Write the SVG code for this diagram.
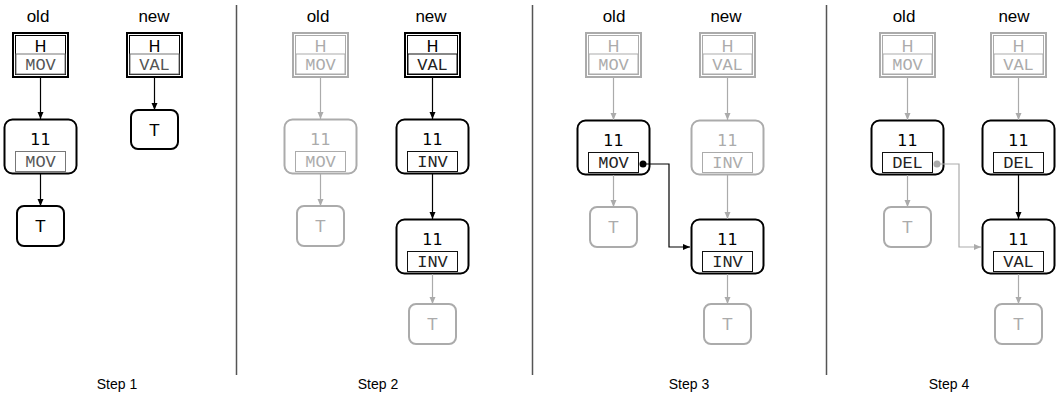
<svg xmlns="http://www.w3.org/2000/svg" width="1061" height="395" viewBox="0 0 1061 395">
<defs>
<style>
.bg{fill:#fff}
.ob{fill:#fff;stroke:#000;stroke-width:2}
.og{fill:#fff;stroke:#ababab;stroke-width:2}
.ib{fill:none;stroke:#000;stroke-width:1}
.ig{fill:none;stroke:#ababab;stroke-width:1}
.lb{fill:#fff;stroke:#111;stroke-width:1}
.lg{fill:#fff;stroke:#ababab;stroke-width:1}
.l1{fill:#fff;stroke:#777;stroke-width:1}
.nt{font-family:"DejaVu Sans",sans-serif;font-size:16px;text-anchor:middle}
.mt{font-family:"Liberation Mono","Courier New",monospace;font-size:17px;text-anchor:middle}
.hd{font-family:"Liberation Sans",Arial,sans-serif;font-size:17px;text-anchor:middle;fill:#000}
.st{font-family:"Liberation Sans",Arial,sans-serif;font-size:14px;text-anchor:middle;fill:#000}
.k{fill:#000}
.km{fill:#222}
.g{fill:#ababab}
.k1{fill:#555}
.cb{fill:none;stroke:#000;stroke-width:1.2;marker-end:url(#ab)}
.cg{fill:none;stroke:#ababab;stroke-width:1.2;marker-end:url(#ag)}
.sep{stroke:#555;stroke-width:1.5}
</style>
<marker id="ab" viewBox="0 0 7 7" refX="7" refY="3.5" markerWidth="7" markerHeight="7" markerUnits="userSpaceOnUse" orient="auto"><path d="M0,0.5 L7,3.5 L0,6.5 z" fill="#000"/></marker>
<marker id="ag" viewBox="0 0 7 7" refX="7" refY="3.5" markerWidth="7" markerHeight="7" markerUnits="userSpaceOnUse" orient="auto"><path d="M0,0.5 L7,3.5 L0,6.5 z" fill="#ababab"/></marker>
</defs>
<rect class="bg" x="0" y="0" width="1061" height="395"/>

<g id="separators">
<line class="sep" x1="236.5" y1="5" x2="236.5" y2="375"/>
<line class="sep" x1="532.5" y1="5" x2="532.5" y2="375"/>
<line class="sep" x1="826.5" y1="5" x2="826.5" y2="375"/>
</g>

<g id="headers">
<text class="hd" x="38" y="22">old</text><text class="hd" x="154" y="22">new</text>
<text class="hd" x="318" y="22">old</text><text class="hd" x="431" y="22">new</text>
<text class="hd" x="614" y="22">old</text><text class="hd" x="726" y="22">new</text>
<text class="hd" x="904" y="22">old</text><text class="hd" x="1014" y="22">new</text>
</g>

<g id="step-labels">
<text class="st" x="117" y="389">Step 1</text>
<text class="st" x="378" y="389">Step 2</text>
<text class="st" x="689" y="389">Step 3</text>
<text class="st" x="949" y="389">Step 4</text>
</g>

<!-- STEP 1 -->
<g id="s1-old-h">
<rect class="ob" x="13" y="33" width="55" height="44"/>
<rect class="ib" x="15.5" y="35.5" width="50" height="39"/>
<text class="nt k" x="40.5" y="52">H</text>
<rect class="l1" x="16" y="54" width="49" height="20"/>
<text class="mt k1" x="40.5" y="70">MOV</text>
</g>
<g id="s1-old-11">
<rect class="ob" x="4.5" y="119.5" width="72" height="54" rx="8"/>
<text class="nt k" x="40.5" y="145">11</text>
<rect class="l1" x="15.5" y="151.5" width="50" height="20"/>
<text class="mt k1" x="40.5" y="167">MOV</text>
</g>
<g id="s1-old-t">
<rect class="ob" x="17" y="206" width="47" height="40" rx="7"/>
<text class="nt k" x="40.5" y="232">T</text>
</g>
<g id="s1-new-h">
<rect class="ob" x="127" y="33" width="55" height="44"/>
<rect class="ib" x="129.5" y="35.5" width="50" height="39"/>
<text class="nt k" x="154.5" y="52">H</text>
<rect class="l1" x="130" y="54" width="49" height="20"/>
<text class="mt k1" x="154.5" y="70">VAL</text>
</g>
<g id="s1-new-t">
<rect class="ob" x="131" y="110" width="47" height="39" rx="7"/>
<text class="nt k" x="154.5" y="136">T</text>
</g>

<!-- STEP 2 -->
<g id="s2-old-h">
<rect class="og" x="293" y="33" width="55" height="44"/>
<rect class="ig" x="295.5" y="35.5" width="50" height="39"/>
<text class="nt g" x="320.5" y="52">H</text>
<rect class="lg" x="296" y="54" width="49" height="20"/>
<text class="mt g" x="320.5" y="70">MOV</text>
</g>
<g id="s2-old-11">
<rect class="og" x="284.5" y="119.5" width="72" height="54" rx="8"/>
<text class="nt g" x="320.5" y="145">11</text>
<rect class="lg" x="295.5" y="151.5" width="50" height="20"/>
<text class="mt g" x="320.5" y="167">MOV</text>
</g>
<g id="s2-old-t">
<rect class="og" x="297" y="206" width="47" height="40" rx="7"/>
<text class="nt g" x="320.5" y="232">T</text>
</g>
<g id="s2-new-h">
<rect class="ob" x="405" y="33" width="55" height="44"/>
<rect class="ib" x="407.5" y="35.5" width="50" height="39"/>
<text class="nt k" x="432.5" y="52">H</text>
<rect class="lb" x="408" y="54" width="49" height="20"/>
<text class="mt km" x="432.5" y="70">VAL</text>
</g>
<g id="s2-new-11a">
<rect class="ob" x="396.5" y="119.5" width="72" height="54" rx="8"/>
<text class="nt k" x="432.5" y="145">11</text>
<rect class="lb" x="407.5" y="151.5" width="50" height="20"/>
<text class="mt km" x="432.5" y="167">INV</text>
</g>
<g id="s2-new-11b">
<rect class="ob" x="396.5" y="219.5" width="72" height="54" rx="8"/>
<text class="nt k" x="432.5" y="245">11</text>
<rect class="lb" x="407.5" y="251.5" width="50" height="20"/>
<text class="mt km" x="432.5" y="267">INV</text>
</g>
<g id="s2-new-t">
<rect class="og" x="409" y="304" width="47" height="40" rx="7"/>
<text class="nt g" x="432.5" y="330">T</text>
</g>

<!-- STEP 3 -->
<g id="s3-old-h">
<rect class="og" x="586" y="33" width="55" height="44"/>
<rect class="ig" x="588.5" y="35.5" width="50" height="39"/>
<text class="nt g" x="613.5" y="52">H</text>
<rect class="lg" x="589" y="54" width="49" height="20"/>
<text class="mt g" x="613.5" y="70">MOV</text>
</g>
<g id="s3-old-11">
<rect class="ob" x="577.5" y="120.5" width="72" height="54" rx="8"/>
<text class="nt k" x="613.5" y="146">11</text>
<rect class="lb" x="588.5" y="152.5" width="50" height="20"/>
<text class="mt km" x="613.5" y="168">MOV</text>
</g>
<g id="s3-old-t">
<rect class="og" x="590" y="207" width="47" height="40" rx="7"/>
<text class="nt g" x="613.5" y="233">T</text>
</g>
<g id="s3-new-h">
<rect class="og" x="700" y="33" width="55" height="44"/>
<rect class="ig" x="702.5" y="35.5" width="50" height="39"/>
<text class="nt g" x="727.5" y="52">H</text>
<rect class="lg" x="703" y="54" width="49" height="20"/>
<text class="mt g" x="727.5" y="70">VAL</text>
</g>
<g id="s3-new-11a">
<rect class="og" x="691.5" y="120.5" width="72" height="54" rx="8"/>
<text class="nt g" x="727.5" y="146">11</text>
<rect class="lg" x="702.5" y="152.5" width="50" height="20"/>
<text class="mt g" x="727.5" y="168">INV</text>
</g>
<g id="s3-new-11b">
<rect class="ob" x="691.5" y="219.5" width="72" height="54" rx="8"/>
<text class="nt k" x="727.5" y="245">11</text>
<rect class="lb" x="702.5" y="251.5" width="50" height="20"/>
<text class="mt km" x="727.5" y="267">INV</text>
</g>
<g id="s3-new-t">
<rect class="og" x="704" y="304" width="47" height="40" rx="7"/>
<text class="nt g" x="727.5" y="330">T</text>
</g>

<!-- STEP 4 -->
<g id="s4-old-h">
<rect class="og" x="880" y="33" width="55" height="44"/>
<rect class="ig" x="882.5" y="35.5" width="50" height="39"/>
<text class="nt g" x="907.5" y="52">H</text>
<rect class="lg" x="883" y="54" width="49" height="20"/>
<text class="mt g" x="907.5" y="70">MOV</text>
</g>
<g id="s4-old-11">
<rect class="ob" x="871.5" y="120.5" width="72" height="54" rx="8"/>
<text class="nt k" x="907.5" y="146">11</text>
<rect class="lb" x="882.5" y="152.5" width="50" height="20"/>
<text class="mt km" x="907.5" y="168">DEL</text>
</g>
<g id="s4-old-t">
<rect class="og" x="884" y="207" width="47" height="40" rx="7"/>
<text class="nt g" x="907.5" y="233">T</text>
</g>
<g id="s4-new-h">
<rect class="og" x="991" y="33" width="55" height="44"/>
<rect class="ig" x="993.5" y="35.5" width="50" height="39"/>
<text class="nt g" x="1018.5" y="52">H</text>
<rect class="lg" x="994" y="54" width="49" height="20"/>
<text class="mt g" x="1018.5" y="70">VAL</text>
</g>
<g id="s4-new-11a">
<rect class="ob" x="982.5" y="120.5" width="72" height="54" rx="8"/>
<text class="nt k" x="1018.5" y="146">11</text>
<rect class="lb" x="993.5" y="152.5" width="50" height="20"/>
<text class="mt km" x="1018.5" y="168">DEL</text>
</g>
<g id="s4-new-11b">
<rect class="ob" x="982.5" y="219.5" width="72" height="54" rx="8"/>
<text class="nt k" x="1018.5" y="245">11</text>
<rect class="lb" x="993.5" y="251.5" width="50" height="20"/>
<text class="mt km" x="1018.5" y="267">VAL</text>
</g>
<g id="s4-new-t">
<rect class="og" x="995" y="304" width="47" height="40" rx="7"/>
<text class="nt g" x="1018.5" y="330">T</text>
</g>

<g id="connectors">
<line class="cb" x1="40.5" y1="78" x2="40.5" y2="119"/>
<line class="cb" x1="40.5" y1="174" x2="40.5" y2="206"/>
<line class="cb" x1="154.5" y1="78" x2="154.5" y2="110"/>
<line class="cg" x1="320.5" y1="78" x2="320.5" y2="119"/>
<line class="cg" x1="320.5" y1="174" x2="320.5" y2="206"/>
<line class="cb" x1="432.5" y1="78" x2="432.5" y2="119"/>
<line class="cb" x1="432.5" y1="174" x2="432.5" y2="219"/>
<line class="cg" x1="432.5" y1="274" x2="432.5" y2="304"/>
<line class="cg" x1="613.5" y1="78" x2="613.5" y2="120"/>
<line class="cg" x1="613.5" y1="175" x2="613.5" y2="207"/>
<line class="cg" x1="727.5" y1="78" x2="727.5" y2="120"/>
<line class="cg" x1="727.5" y1="175" x2="727.5" y2="219"/>
<line class="cg" x1="727.5" y1="274" x2="727.5" y2="304"/>
<path class="cb" d="M643,164 H669 V247 H690"/>
<circle cx="643" cy="164" r="3.5" fill="#000"/>
<line class="cg" x1="907.5" y1="78" x2="907.5" y2="120"/>
<line class="cg" x1="907.5" y1="175" x2="907.5" y2="207"/>
<line class="cg" x1="1018.5" y1="78" x2="1018.5" y2="120"/>
<line class="cb" x1="1018.5" y1="175" x2="1018.5" y2="219"/>
<line class="cg" x1="1018.5" y1="274" x2="1018.5" y2="304"/>
<path class="cg" d="M937,164 H959 V247 H981"/>
<circle cx="937" cy="164" r="3.5" fill="#ababab"/>
</g>
</svg>
